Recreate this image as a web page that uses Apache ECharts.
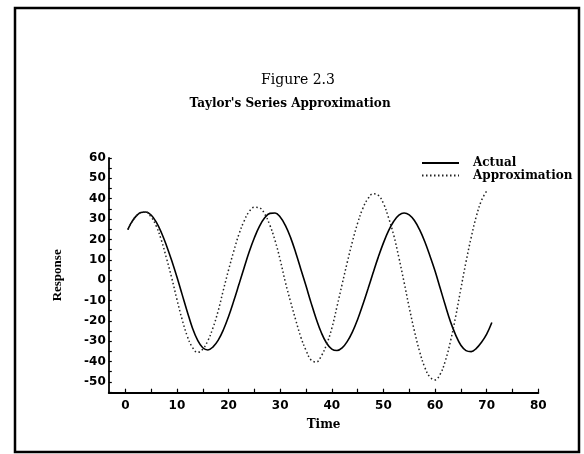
<!DOCTYPE html>
<html>
<head>
<meta charset="utf-8">
<script src="https://cdn.jsdelivr.net/npm/echarts@6/dist/echarts.min.js"></script>
<style>
  html, body { margin: 0; padding: 0; background: #fff; }
  #chart { width: 584px; height: 454px; }
</style>
</head>
<body>
<div id="chart"></div>
<script>
// Sample times
const time = [0.5, 1, 2, 3, 4, 5, 6, 7, 8, 9, 10, 11, 12, 13, 14, 15, 16, 17, 18, 19, 20,
  21, 22, 23, 24, 25, 26, 27, 28, 29, 30, 31, 32, 33, 34, 35, 36, 37, 38, 39, 40,
  41, 42, 43, 44, 45, 46, 47, 48, 49, 50, 51, 52, 53, 54, 55, 56, 57, 58, 59, 60,
  61, 62, 63, 64, 65, 66, 67, 68, 69, 70, 71];

// Actual response
const actual = [24.8, 27.5, 31.2, 33.2, 33.5, 32.0, 28.5, 23.3, 16.8, 9.5, 1.5,
  -7.0, -15.5, -23.5, -29.5, -33.2, -34.3, -32.8, -29.5, -24.4, -17.9,
  -10.3, -2.2, 6.0, 13.9, 20.8, 26.5, 30.6, 32.8, 33.0, 31.0,
  26.9, 21.0, 13.6, 5.4, -2.8, -11.3, -19.2, -26.0, -31.0, -33.9,
  -34.6, -33.3, -30.1, -25.4, -19.3, -12.1, -4.4, 3.6, 11.3, 18.3,
  24.3, 28.9, 31.9, 33.0, 32.1, 29.3, 24.8, 19.0, 12.0, 4.5,
  -4.0, -12.5, -20.5, -27.0, -32.0, -34.6, -35.1, -33.5, -30.5, -26.5, -20.8];

// Taylor's series approximation
const approximation = [24.8, 27.5, 31.2, 33.2, 33.4, 31.0, 26.5, 19.5, 10.5, 1.0, -9.5,
  -19.3, -27.5, -33.0, -35.5, -33.9, -29.7, -23.3, -15.0, -4.8, 5.0,
  14.2, 22.5, 29.0, 33.7, 35.8, 35.5, 32.5, 27.0, 19.5, 10.0,
  -1.0, -10.5, -19.5, -28.0, -34.5, -39.3, -40.2, -37.1, -31.5, -23.7,
  -13.0, -2.0, 8.8, 19.0, 28.0, 35.2, 40.0, 42.4, 41.7, 37.7,
  30.6, 22.0, 11.0, -1.0, -13.5, -25.0, -35.0, -42.8, -47.6, -49.0,
  -46.2, -39.6, -29.9, -17.8, -4.2, 9.0, 21.0, 31.4, 39.2, 43.8, null];

// Axis tick labels and tick marks
const xLabels = [0, 10, 20, 30, 40, 50, 60, 70, 80];
const xTicks = [0, 5, 10, 15, 20, 25, 30, 35, 40, 45, 50, 55, 60, 65, 70, 75, 80];
const yLabels = [-50, -40, -30, -20, -10, 0, 10, 20, 30, 40, 50, 60];
const yTicks = [-55, -50, -45, -40, -35, -30, -25, -20, -15, -10, -5, 0, 5, 10, 15, 20, 25, 30, 35, 40, 45, 50, 55, 60];

const seriesNames = ['Actual', 'Approximation'];

const chart = echarts.init(document.getElementById('chart'), null, { renderer: 'canvas' });

const tickFont = { fontFamily: 'DejaVu Sans', fontWeight: 'bold', fontSize: 12, color: '#000' };

chart.setOption({
  backgroundColor: '#fff',
  animation: false,
  title: [
    {
      text: 'Figure 2.3',
      left: 298, textAlign: 'center', top: 73,
      padding: 0,
      textStyle: { fontFamily: 'DejaVu Serif', fontWeight: 'normal', fontSize: 14, color: '#000' }
    },
    {
      text: "Taylor's Series Approximation",
      left: 290, textAlign: 'center', top: 98,
      padding: 0,
      textStyle: { fontFamily: 'DejaVu Serif', fontWeight: 'bold', fontSize: 12, color: '#000' }
    }
  ],
  graphic: [
    {
      type: 'rect',
      shape: { x: 15, y: 8, width: 564, height: 444 },
      style: { fill: 'none', stroke: '#000', lineWidth: 2.5 },
      silent: true
    }
  ],
  legend: {
    orient: 'vertical',
    left: 421, top: 157,
    itemWidth: 37, itemHeight: 11, itemGap: 0.6,
    padding: 0,
    data: seriesNames,
    itemStyle: { opacity: 0 },
    textStyle: { fontFamily: 'DejaVu Serif', fontWeight: 'bold', fontSize: 12, color: '#000',
                 lineHeight: 11, padding: [0, 0, 0, 9] }
  },
  grid: { left: 108.8, right: 584 - 538.3, top: 158, bottom: 454 - 392.7, containLabel: false },
  xAxis: {
    type: 'value',
    min: -3.2, max: 80,
    name: 'Time',
    nameLocation: 'middle',
    nameGap: 26,
    nameTextStyle: { fontFamily: 'DejaVu Serif', fontWeight: 'bold', fontSize: 12, color: '#000' },
    axisLine: { show: true, onZero: false, lineStyle: { color: '#000', width: 2 } },
    axisTick: { show: true, inside: true, length: 4, customValues: xTicks, lineStyle: { color: '#000', width: 1.2 } },
    axisLabel: Object.assign({ customValues: xLabels, margin: 7 }, tickFont),
    splitLine: { show: false }
  },
  yAxis: {
    type: 'value',
    min: -55.3, max: 60,
    name: 'Response',
    nameLocation: 'middle',
    nameGap: 45,
    nameTextStyle: { fontFamily: 'Liberation Serif', fontWeight: 'bold', fontSize: 13, color: '#000' },
    axisLine: { show: true, onZero: false, lineStyle: { color: '#000', width: 1.8 } },
    axisTick: { show: true, inside: true, length: 3, customValues: yTicks, lineStyle: { color: '#000', width: 1.2 } },
    axisLabel: Object.assign({ customValues: yLabels, margin: 3 }, tickFont),
    splitLine: { show: false }
  },
  series: [
    {
      name: seriesNames[0],
      type: 'line',
      data: time.map((t, i) => [t, actual[i]]),
      symbol: 'none',
      smooth: 0.4,
      lineStyle: { color: '#000', width: 1.6, type: 'solid' },
      itemStyle: { color: '#000' }
    },
    {
      name: seriesNames[1],
      type: 'line',
      data: time.map((t, i) => [t, approximation[i]]),
      symbol: 'none',
      smooth: 0.4,
      connectNulls: false,
      lineStyle: { color: '#222', width: 1.5, type: [1.5, 2.5] },
      itemStyle: { color: '#222' }
    }
  ]
});
</script>
</body>
</html>
